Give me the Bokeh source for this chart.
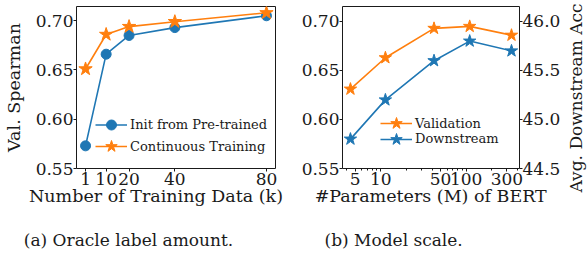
import math
import json
from bokeh.plotting import figure
from bokeh.models import (Range1d, LinearAxis, FixedTicker, PrintfTickFormatter,
                          CustomJSTickFormatter, Legend, LegendItem, Title)
from bokeh.layouts import row
from bokeh.embed import file_html
from bokeh.resources import INLINE

# ---------------- data ----------------
# (a) Oracle label amount
amount_k = [1, 10, 20, 40, 80]
init_pretrained = [0.573, 0.666, 0.685, 0.693, 0.705]
continuous_training = [0.651, 0.686, 0.694, 0.699, 0.708]
amount_ticks = [1, 10, 20, 40, 80]
spearman_ticks = [0.55, 0.60, 0.65, 0.70]

# (b) Model scale
params_m = [4.4, 11.3, 42, 110, 340]
validation = [0.631, 0.663, 0.693, 0.695, 0.686]
downstream = [44.8, 45.2, 45.6, 45.8, 45.7]
param_ticks = [5, 10, 50, 100, 300]
param_minor_ticks = [4, 6, 7, 8, 9, 20, 30, 40, 60, 70, 80, 90, 200, 400]
acc_ticks = [44.5, 45.0, 45.5, 46.0]

# ---------------- style ----------------
FONT = "DejaVu Serif"
BLUE = "#1f77b4"
ORANGE = "#ff7f0e"
INK = "#1a1a1a"
TICK_SIZE = "17px"
LABEL_SIZE = "17.5px"
CAP_SIZE = "17px"
H = 258

# frame geometry (pixels) and ranges
A_X = (-2.95, 83.95)
A_Y = (0.55, 0.7144)
A_FRAME = dict(left=74, right=275, top=5, bottom=168)
B_X = (3.55, 422.0)
B_Y = (0.55, 0.7153)
B_ACC = (44.5, 46.153)
B_FRAME = dict(left=342, right=522, top=6, bottom=168)
B_WIDTH = 273
STRIP_WIDTH = 24


def lin_at(px, p0, p1, v0, v1):
    return v0 + (px - p0) / (p1 - p0) * (v1 - v0)


def log_at(px, p0, p1, v0, v1):
    return 10 ** lin_at(px, p0, p1, math.log10(v0), math.log10(v1))


def style_axis(ax, ticks, fmt, minor=None):
    ax.ticker = FixedTicker(ticks=ticks, minor_ticks=minor or [])
    ax.formatter = PrintfTickFormatter(format=fmt)
    ax.axis_line_color = None
    ax.major_tick_in = 0
    ax.major_tick_out = 3
    ax.major_tick_line_color = INK
    ax.minor_tick_in = 0
    ax.minor_tick_out = 2 if minor else 0
    ax.minor_tick_line_color = INK
    ax.major_label_text_font = FONT
    ax.major_label_text_font_size = TICK_SIZE
    ax.major_label_text_color = INK
    ax.major_label_standoff = 0


def text_axis(p, side, text, pos, size, standoff):
    ax = LinearAxis()
    ax.ticker = FixedTicker(ticks=[pos])
    ax.formatter = CustomJSTickFormatter(code="return " + json.dumps(text) + ";")
    ax.axis_line_color = None
    ax.major_tick_line_color = None
    ax.minor_tick_line_color = None
    ax.major_tick_in = 0
    ax.major_tick_out = 0
    ax.minor_tick_in = 0
    ax.minor_tick_out = 0
    ax.major_label_standoff = standoff
    ax.major_label_text_font = FONT
    ax.major_label_text_font_size = size
    ax.major_label_text_color = INK
    p.add_layout(ax, side)


def base_fig(width, x0, fr, x_range, y_range, **kw):
    p = figure(width=width, height=H, output_backend="svg", toolbar_location=None,
               x_range=x_range, y_range=y_range,
               min_border_left=fr["left"] - x0, min_border_right=x0 + width - fr["right"],
               min_border_top=fr["top"], min_border_bottom=H - fr["bottom"], **kw)
    p.xgrid.visible = False
    p.ygrid.visible = False
    p.outline_line_color = INK
    p.outline_line_width = 1
    p.background_fill_color = "white"
    p.border_fill_color = "white"
    return p


def add_legend(p, item, x, y, font_size, gw, gh):
    leg = Legend(items=[item], location=(x, y), orientation="vertical",
                 label_text_font=FONT, label_text_font_size=font_size,
                 label_text_color=INK,
                 glyph_width=gw, glyph_height=gh, label_height=gh,
                 label_standoff=3, padding=0, margin=0, spacing=0,
                 border_line_alpha=0, background_fill_alpha=0)
    p.add_layout(leg, "center")


# ---------------- (a) ----------------
pa = base_fig(290, 0, A_FRAME, Range1d(*A_X), Range1d(*A_Y))
style_axis(pa.xaxis[0], amount_ticks, "%d")
pa.xaxis[0].major_label_standoff = 1
style_axis(pa.yaxis[0], spearman_ticks, "%.2f")
pa.yaxis[0].axis_label = "Val. Spearman"
pa.yaxis[0].axis_label_standoff = 9
pa.yaxis[0].axis_label_text_font = FONT
pa.yaxis[0].axis_label_text_font_size = LABEL_SIZE
pa.yaxis[0].axis_label_text_font_style = "normal"
pa.yaxis[0].axis_label_text_color = INK

la_b = pa.line(amount_k, init_pretrained, line_color=BLUE, line_width=1.6)
sa_b = pa.scatter(amount_k, init_pretrained, marker="circle", size=10,
                  fill_color=BLUE, line_color=BLUE)
la_o = pa.line(amount_k, continuous_training, line_color=ORANGE, line_width=1.6)
sa_o = pa.scatter(amount_k, continuous_training, marker="star", size=14,
                  fill_color=ORANGE, line_color=ORANGE)

add_legend(pa, LegendItem(label="Init from Pre-trained", renderers=[la_b, sa_b]),
           19, 44 - 12.5, "13px", 32, 25)
add_legend(pa, LegendItem(label="Continuous Training", renderers=[la_o, sa_o]),
           19, 21.6 - 15, "13px", 32, 30)

ax_fr = (A_FRAME["left"], A_FRAME["right"], *A_X)
text_axis(pa, "below", "Number of Training Data (k)", lin_at(154.3, *ax_fr), LABEL_SIZE, -2)
text_axis(pa, "below", "(a) Oracle label amount.", lin_at(126.5, *ax_fr), CAP_SIZE, 21)

# ---------------- (b) ----------------
pb = base_fig(B_WIDTH, 290, B_FRAME, Range1d(*B_X), Range1d(*B_Y), x_axis_type="log")
pb.extra_y_ranges = {"acc": Range1d(*B_ACC)}
acc_axis = LinearAxis(y_range_name="acc")
pb.add_layout(acc_axis, "right")
style_axis(pb.xaxis[0], param_ticks, "%d", minor=param_minor_ticks)
pb.xaxis[0].major_label_standoff = 1
style_axis(pb.yaxis[0], spearman_ticks, "%.2f")
style_axis(acc_axis, acc_ticks, "%.1f")

lb_o = pb.line(params_m, validation, line_color=ORANGE, line_width=1.6)
sb_o = pb.scatter(params_m, validation, marker="star", size=13,
                  fill_color=ORANGE, line_color=ORANGE)
lb_b = pb.line(params_m, downstream, line_color=BLUE, line_width=1.6, y_range_name="acc")
sb_b = pb.scatter(params_m, downstream, marker="star", size=13,
                  fill_color=BLUE, line_color=BLUE, y_range_name="acc")

add_legend(pb, LegendItem(label="Validation", renderers=[lb_o, sb_o]),
           38, 45 - 15, "13px", 32, 30)
add_legend(pb, LegendItem(label="Downstream", renderers=[lb_b, sb_b]),
           38, 29.4 - 15, "13px", 32, 30)

bx_fr = (B_FRAME["left"], B_FRAME["right"], *B_X)
text_axis(pb, "below", "#Parameters (M) of BERT", log_at(431.7, *bx_fr), LABEL_SIZE, -2)
text_axis(pb, "below", "(b) Model scale.", log_at(394.0, *bx_fr), CAP_SIZE, 21)

# ---------------- right-hand axis title strip ----------------
pr = figure(width=STRIP_WIDTH, height=H, output_backend="svg", toolbar_location=None,
            x_range=Range1d(0, 1), y_range=Range1d(0, 1),
            min_border_left=0, min_border_right=0, min_border_top=0, min_border_bottom=0,
            x_axis_location=None, y_axis_location=None)
pr.outline_line_color = None
pr.xgrid.visible = False
pr.ygrid.visible = False
pr.border_fill_color = "white"
pr.background_fill_color = "white"
pr.add_layout(Title(text="Avg. Downstream Acc", align="right", offset=-3, standoff=1,
                    vertical_align="bottom", text_font=FONT, text_font_size="17px",
                    text_font_style="normal", text_color=INK), "left")

layout = row(pa, pb, pr)
open("out.html", "w").write(file_html(layout, INLINE))
